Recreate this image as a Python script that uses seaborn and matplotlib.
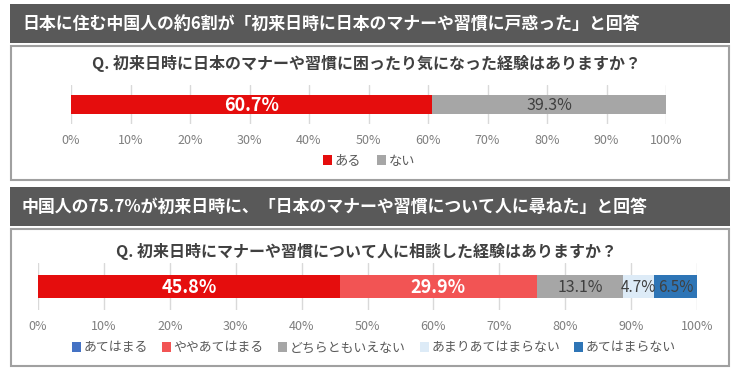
import matplotlib
matplotlib.use("Agg")
import matplotlib.pyplot as plt
from matplotlib.patches import Rectangle, Patch
import seaborn as sns

sns.set_style("white")
plt.rcParams['font.family'] = ['Noto Sans CJK JP', 'DejaVu Sans']

# ---- data ----
header1 = "日本に住む中国人の約6割が「初来日時に日本のマナーや習慣に戸惑った」と回答"
question1 = "Q. 初来日時に日本のマナーや習慣に困ったり気になった経験はありますか？"
cats1 = ["ある", "ない"]
vals1 = [60.7, 39.3]

header2 = "中国人の75.7%が初来日時に、「日本のマナーや習慣について人に尋ねた」と回答"
question2 = "Q. 初来日時にマナーや習慣について人に相談した経験はありますか？"
cats2 = ["あてはまる", "ややあてはまる", "どちらともいえない", "あまりあてはまらない", "あてはまらない"]
vals2 = [45.8, 29.9, 13.1, 4.7, 6.5]

ticks = [0, 10, 20, 30, 40, 50, 60, 70, 80, 90, 100]
tick_labels = [f"{t}%" for t in ticks]

# ---- styles ----
colors1 = ["#E50D0D", "#A6A6A6"]
label_style1 = [("white", "bold", 13), ("#404040", "normal", 11.5)]
colors2 = ["#E50D0D", "#F25454", "#A6A6A6", "#DDEBF7", "#2E75B6"]
legend_colors2 = ["#4472C4", "#F25454", "#A6A6A6", "#DDEBF7", "#2E75B6"]
label_style2 = [("white", "bold", 13), ("white", "bold", 13),
                ("#404040", "normal", 11.5), ("#404040", "normal", 11), ("#404040", "normal", 11)]

W, H = 740, 372
fig = plt.figure(figsize=(W / 100, H / 100), dpi=100)


def fx(x):
    return x / W


def fy(y):
    return 1 - y / H


def rect(x0, y0, x1, y1, fc, ec="none", lw=0):
    fig.patches.append(Rectangle((fx(x0), fy(y1)), fx(x1) - fx(x0), fy(y0) - fy(y1),
                                 transform=fig.transFigure, facecolor=fc, edgecolor=ec,
                                 linewidth=lw, zorder=-10))


# headers and panels
rect(10, 4, 730, 43, "#595959")
rect(11, 46, 729, 180, "white", "#A0A0A0", 1.5)
rect(10, 187, 730, 226, "#595959")
rect(11, 229, 729, 366, "white", "#A0A0A0", 1.5)

fig.text(fx(22), fy(24), header1, color="white", fontsize=12.2, fontweight="bold", va="center", ha="left")
fig.text(fx(22), fy(207), header2, color="white", fontsize=12.2, fontweight="bold", va="center", ha="left")
fig.text(fx(366), fy(64), question1, color="#404040", fontsize=11.5, fontweight="bold", va="center", ha="center")
fig.text(fx(366), fy(252), question2, color="#404040", fontsize=11.5, fontweight="bold", va="center", ha="center")


def stacked(ax, cats, vals, colors, styles):
    cums = []
    s = 0
    for v in vals:
        s += v
        cums.append(s)
    label = ["Q"]
    for i in reversed(range(len(vals))):
        sns.barplot(x=[cums[i]], y=label, color=colors[i], saturation=1, orient="h",
                    width=0.5, ax=ax, zorder=3, linewidth=0)
    for i, v in enumerate(vals):
        c, w, fs = styles[i]
        ax.text(cums[i] - v / 2, 0.02, f"{v}%", color=c, fontweight=w, fontsize=fs,
                ha="center", va="center", zorder=5)
    ax.set_xlim(0, 100)
    ax.set_ylim(0.5, -0.5)
    ax.set_xticks(ticks)
    ax.set_xticklabels(tick_labels)
    ax.set_yticks([])
    ax.set_xlabel("")
    ax.set_ylabel("")
    for sp in ax.spines.values():
        sp.set_visible(False)
    ax.xaxis.grid(True, color="#D9D9D9", linewidth=1, zorder=0)
    ax.set_axisbelow(True)
    ax.tick_params(axis="x", length=0, pad=7, labelsize=9, labelcolor="#7F7F7F")
    ax.patch.set_alpha(0)


ax1 = fig.add_axes([fx(71), fy(124), fx(666) - fx(71), fy(85) - fy(124)])
stacked(ax1, cats1, vals1, colors1, label_style1)
ax2 = fig.add_axes([fx(38), fy(310), fx(697) - fx(38), fy(263) - fy(310)])
stacked(ax2, cats2, vals2, colors2, label_style2)

h1 = [Patch(facecolor=c, edgecolor="none", label=l) for c, l in zip(colors1, cats1)]
fig.legend(handles=h1, loc="center", bbox_to_anchor=(fx(369), fy(161)), ncol=2, frameon=False,
           fontsize=9.5, handlelength=0.7, handleheight=0.7, handletextpad=0.2, columnspacing=1.2,
           labelcolor="#595959")
h2 = [Patch(facecolor=c, edgecolor="none", label=l) for c, l in zip(legend_colors2, cats2)]
fig.legend(handles=h2, loc="center", bbox_to_anchor=(fx(374), fy(348)), ncol=5, frameon=False,
           fontsize=9.3, handlelength=0.7, handleheight=0.7, handletextpad=0.2, columnspacing=1.1,
           labelcolor="#595959")

fig.savefig("out.png", dpi=100, facecolor="white")
